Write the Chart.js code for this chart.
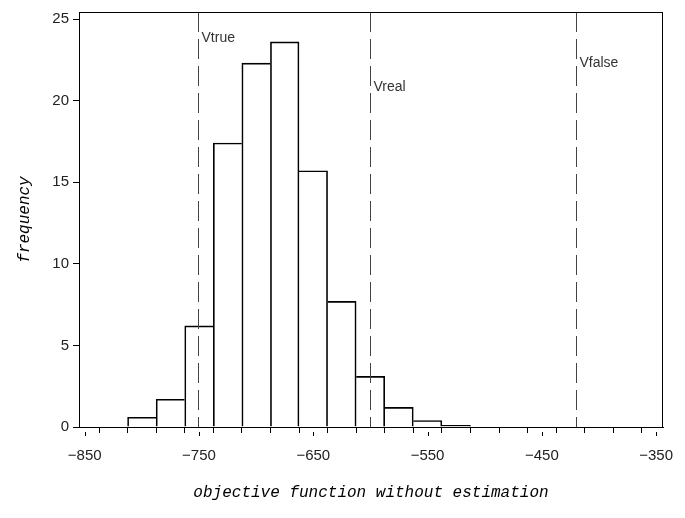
<!DOCTYPE html>
<html>
<head>
<meta charset="utf-8">
<script src="https://cdn.jsdelivr.net/npm/chart.js@4/dist/chart.umd.min.js"></script>
<style>
  html, body { margin: 0; padding: 0; background: #fff; }
  #wrap { width: 685px; height: 518px; }
</style>
</head>
<body>
<div id="wrap"><canvas id="histChart"></canvas></div>
<script>
// histogram midpoints and frequencies (%)
const binMids = [-800, -775, -750, -725, -700, -675, -650, -625, -600, -575, -550, -525];
const freq = [0.6, 1.7, 6.2, 17.4, 22.3, 23.6, 15.7, 7.7, 3.1, 1.2, 0.4, 0.1];

// reference lines
const refNames = ["Vtrue", "Vreal", "Vfalse"];
const refValues = [-751, -600, -420];
const refLabelLevels = [23.8, 20.8, 22.3];

// axis ticks
const xMajorTicks = [-850, -750, -650, -550, -450, -350];
const yTicks = [0, 5, 10, 15, 20, 25];

const xMinorTicks = [];
for (let v = xMajorTicks[0]; v <= xMajorTicks[xMajorTicks.length - 1]; v += 25) {
  xMinorTicks.push(v);
}

const tickFont = { family: "'Liberation Sans', Arial, sans-serif", size: 15 };
const titleFont = { family: "'Liberation Mono', 'Courier New', monospace", size: 16, style: "italic" };

// frame + dashed reference lines with labels
const refLinesPlugin = {
  id: "refLines",
  afterDatasetsDraw(chart) {
    const { ctx, chartArea, scales } = chart;
    ctx.save();
    ctx.strokeStyle = "#444";
    ctx.lineWidth = 1;
    ctx.setLineDash([20, 7]);
    refValues.forEach((v, i) => {
      const x = Math.round(scales.x.getPixelForValue(v)) + 0.5;
      ctx.beginPath();
      ctx.moveTo(x, chartArea.top);
      ctx.lineTo(x, chartArea.bottom);
      ctx.stroke();

      ctx.fillStyle = "#333";
      ctx.font = "14px 'Liberation Sans', Arial, sans-serif";
      ctx.textBaseline = "middle";
      ctx.fillText(refNames[i], x + 3, scales.y.getPixelForValue(refLabelLevels[i]));
    });
    ctx.setLineDash([]);
    ctx.strokeStyle = "#000";
    ctx.strokeRect(chartArea.left + 0.5, chartArea.top + 0.5,
      chartArea.right - chartArea.left - 1, chartArea.bottom - chartArea.top);

    // major x ticks are a bit longer than the minor ones
    ctx.beginPath();
    xMajorTicks.forEach((v) => {
      const x = Math.round(scales.x.getPixelForValue(v)) + 0.5;
      ctx.moveTo(x, chartArea.bottom + 5);
      ctx.lineTo(x, chartArea.bottom + 9);
    });
    ctx.stroke();
    ctx.restore();
  },
};

// draw each shared bar edge only once
function barBorder(context) {
  const i = context.dataIndex;
  const cur = freq[i];
  const prev = i > 0 ? freq[i - 1] : -1;
  const next = i < freq.length - 1 ? freq[i + 1] : -1;
  return {
    top: 1,
    bottom: 0,
    left: prev <= cur ? 1 : 0,
    right: next < cur ? 1 : 0,
  };
}

const ctx = document.getElementById("histChart").getContext("2d");
new Chart(ctx, {
  type: "bar",
  data: {
    datasets: [
      {
        label: "frequency",
        data: binMids.map((m, i) => ({ x: m, y: freq[i] })),
        backgroundColor: "rgba(255,255,255,0)",
        borderColor: "#000",
        borderWidth: barBorder,
        borderSkipped: false,
        barPercentage: 1,
        categoryPercentage: 1,
        grouped: false,
      },
    ],
  },
  options: {
    responsive: true,
    maintainAspectRatio: false,
    animation: false,
    layout: { padding: { top: 12, right: 22, left: 0, bottom: 0 } },
    plugins: {
      legend: { display: false },
      tooltip: { enabled: false },
    },
    scales: {
      x: {
        type: "linear",
        offset: false,
        min: -855,
        max: -344,
        afterBuildTicks(scale) {
          scale.ticks = xMinorTicks.map((v) => ({ value: v }));
        },
        afterFit(scale) {
          scale.height = 91;
          scale.paddingLeft = 0;
          scale.paddingRight = 0;
        },
        ticks: {
          autoSkip: false,
          maxRotation: 0,
          padding: 14,
          color: "#222",
          font: tickFont,
          callback(value) {
            if (!xMajorTicks.includes(value)) return "";
            return value < 0 ? "\u2212" + Math.abs(value) : String(value);
          },
        },
        grid: {
          drawOnChartArea: false,
          drawTicks: true,
          tickLength: 6,
          tickColor: "#000",
        },
        border: { display: true, color: "#000" },
        title: {
          display: true,
          text: "objective function without estimation",
          font: titleFont,
          color: "#000",
          padding: { top: 0, bottom: 16 },
        },
      },
      y: {
        min: 0,
        max: 25.43,
        afterBuildTicks(scale) {
          scale.ticks = yTicks.map((v) => ({ value: v }));
        },
        afterFit(scale) {
          scale.width = 79;
          scale.paddingTop = 0;
          scale.paddingBottom = 0;
        },
        ticks: {
          padding: 4,
          color: "#222",
          font: tickFont,
        },
        grid: {
          drawOnChartArea: false,
          drawTicks: true,
          tickLength: 6,
          tickColor: "#000",
        },
        border: { display: true, color: "#000" },
        title: {
          display: true,
          text: "frequency",
          font: titleFont,
          color: "#000",
          padding: { top: 15, bottom: 0 },
        },
      },
    },
  },
  plugins: [refLinesPlugin],
});
</script>
</body>
</html>
